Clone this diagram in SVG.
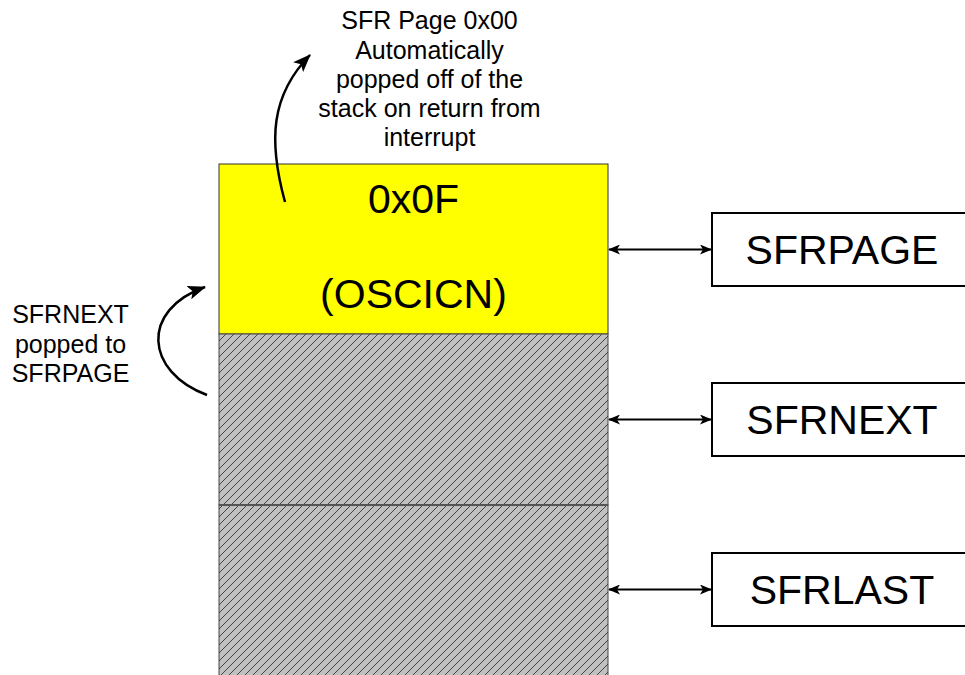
<svg xmlns="http://www.w3.org/2000/svg" width="965" height="675" viewBox="0 0 965 675">
<style>
  .t { font-family: "Liberation Sans", Arial, sans-serif; fill: #000; text-anchor: middle; }
  .big { font-size: 41px; }
  .small { font-size: 25px; }
  .reg { fill: #fff; stroke: #000; stroke-width: 2; }
  .conn { fill: none; stroke: #000; stroke-width: 2.5; }
  .hconn { fill: none; stroke: #000; stroke-width: 2; }
</style>
<defs>
  <pattern id="hatch" patternUnits="userSpaceOnUse" width="8" height="8">
    <rect width="8" height="8" fill="#c0c0c0"/>
    <path d="M-1,9 L9,-1 M-3,3 L3,-3 M5,11 L11,5" stroke="#454545" stroke-width="1"/>
  </pattern>
  <marker id="ah" viewBox="0 0 12 10" refX="11" refY="5" markerWidth="12" markerHeight="10" markerUnits="userSpaceOnUse" orient="auto-start-reverse">
    <path d="M0,0 L12,5 L0,10 L3,5 Z" fill="#000"/>
  </marker>
  <marker id="ahc" viewBox="0 0 18 14" refX="17" refY="7" markerWidth="18" markerHeight="14" markerUnits="userSpaceOnUse" orient="auto">
    <path d="M0,0 L18,7 L0,14 L4,7 Z" fill="#000"/>
  </marker>
</defs>

<g id="stack">
  <g id="slot-sfrpage">
    <rect x="219" y="164" width="389" height="170" fill="#ffff00" stroke="#333" stroke-width="1"/>
    <text class="t big" x="413.5" y="213">0x0F</text>
    <text class="t big" x="413.5" y="308">(OSCICN)</text>
  </g>
  <g id="slot-sfrnext">
    <rect x="219" y="334" width="389" height="171" fill="url(#hatch)" stroke="#444" stroke-width="1"/>
  </g>
  <g id="slot-sfrlast">
    <rect x="219" y="505" width="389" height="180" fill="url(#hatch)" stroke="#444" stroke-width="1"/>
    <line x1="219" y1="505" x2="608" y2="505" stroke="#555" stroke-width="2"/>
  </g>
</g>

<g id="reg-sfrpage">
  <rect class="reg" x="712" y="213" width="270" height="73"/>
  <text class="t big" x="842" y="264">SFRPAGE</text>
</g>
<g id="reg-sfrnext">
  <rect class="reg" x="712" y="383" width="270" height="73"/>
  <text class="t big" x="842" y="434">SFRNEXT</text>
</g>
<g id="reg-sfrlast">
  <rect class="reg" x="712" y="553" width="270" height="73"/>
  <text class="t big" x="842" y="604">SFRLAST</text>
</g>

<g id="note-top">
  <text class="t small" x="429.5" y="29">SFR Page 0x00</text>
  <text class="t small" x="429.5" y="58.5">Automatically</text>
  <text class="t small" x="429.5" y="87.5">popped off of the</text>
  <text class="t small" x="429.5" y="116.5">stack on return from</text>
  <text class="t small" x="429.5" y="145.5">interrupt</text>
</g>
<g id="note-left">
  <text class="t small" x="70.5" y="323">SFRNEXT</text>
  <text class="t small" x="70.5" y="352.5">popped to</text>
  <text class="t small" x="70.5" y="382">SFRPAGE</text>
</g>

<g id="connectors">
  <line class="hconn" x1="609" y1="249.5" x2="711" y2="249.5" marker-start="url(#ah)" marker-end="url(#ah)"/>
  <line class="hconn" x1="609" y1="419.5" x2="711" y2="419.5" marker-start="url(#ah)" marker-end="url(#ah)"/>
  <line class="hconn" x1="609" y1="589.5" x2="711" y2="589.5" marker-start="url(#ah)" marker-end="url(#ah)"/>
  <path class="conn" d="M285,202 C268,140 271,95 310,55" marker-end="url(#ahc)"/>
  <path class="conn" d="M207,395 C145,372 140,310 205,287" marker-end="url(#ahc)"/>
</g>
</svg>
